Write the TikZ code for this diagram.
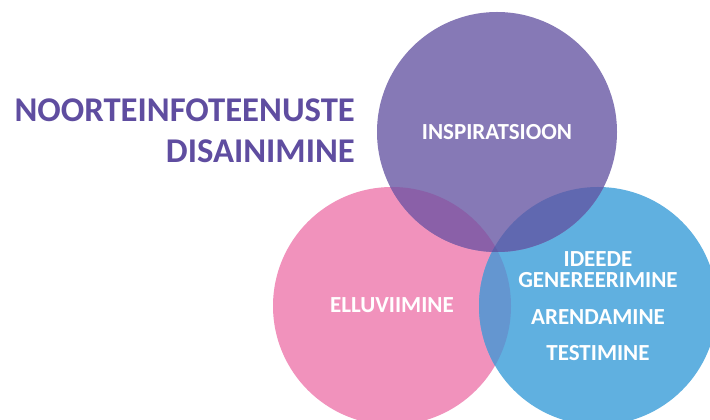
\documentclass[tikz,border=0pt]{standalone}
\usepackage{fontspec}
\setmainfont{Carlito}
\definecolor{cpurple}{HTML}{8679B6}
\definecolor{cpink}{HTML}{F192BC}
\definecolor{cblue}{HTML}{60B0E0}
\definecolor{cpurplepink}{HTML}{8A60A8}
\definecolor{cpurpleblue}{HTML}{6068B0}
\definecolor{cpinkblue}{HTML}{6496D0}
\definecolor{ctriple}{HTML}{5E5EA8}
\definecolor{ctitle}{HTML}{5F4DA0}
\tikzset{
  title/.style={text=ctitle,font=\bfseries\fontsize{34.7}{40}\selectfont,inner sep=0pt,anchor=base east},
  lbl/.style={text=white,font=\bfseries\fontsize{23}{26}\selectfont,inner sep=0pt,anchor=base}
}
\begin{document}
\begin{tikzpicture}[x=1pt,y=1pt]
\clip (0,0) rectangle (710,420);
\fill[white] (0,0) rectangle (710,420);
\def\purplec{(497,288) circle (120)}
\def\pinkc{(392,114) circle (119)}
\def\bluec{(598,114) circle (119)}
\fill[cpink] \pinkc;
\fill[cblue] \bluec;
\fill[cpurple] \purplec;
\begin{scope}\clip \pinkc; \fill[cpinkblue] \bluec;\end{scope}
\begin{scope}\clip \purplec; \fill[cpurplepink] \pinkc;\end{scope}
\begin{scope}\clip \purplec; \fill[cpurpleblue] \bluec;\end{scope}
\begin{scope}\clip \purplec; \clip \pinkc; \fill[ctriple] \bluec;\end{scope}
\node[title] (t1) at (355,298) {NOORTEINFOTEENUSTE};
\node[title] (t2) at (355,257) {DISAINIMINE};
\node[lbl] (insp) at (497,280) {INSPIRATSIOON};
\node[lbl] (ellu) at (392,107) {ELLUVIIMINE};
\node[lbl] (idee) at (598,153) {IDEEDE};
\node[lbl] (gen) at (598,132) {GENEREERIMINE};
\node[lbl] (aren) at (598,95) {ARENDAMINE};
\node[lbl] (test) at (598,59) {TESTIMINE};
\end{tikzpicture}
\end{document}
